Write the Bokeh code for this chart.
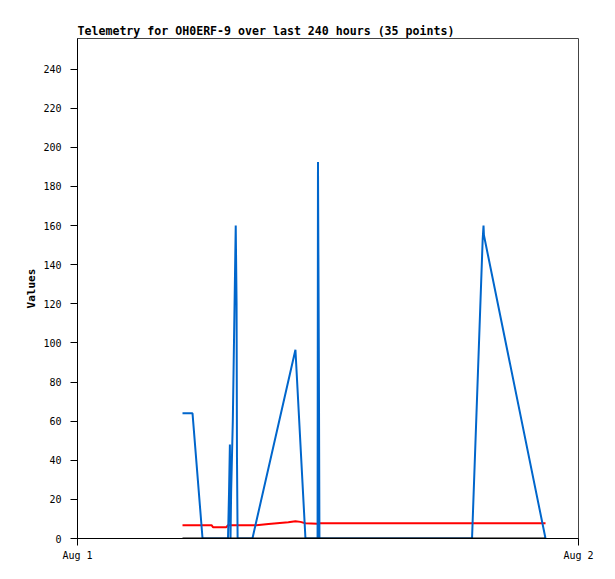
from bokeh.plotting import figure
from bokeh.models import Range1d, FixedTicker
from bokeh.embed import file_html
from bokeh.resources import INLINE

# hours since Aug 1 00:00
blue_hours = [5.03, 5.51, 5.99, 7.21, 7.26, 7.30, 7.33, 7.36, 7.44, 7.58, 7.62,
              7.64, 7.67, 8.38, 10.44, 10.92, 11.50, 11.52, 11.56, 11.59, 18.90,
              19.41, 19.45, 19.47, 22.42]
blue_values = [64, 64, 0, 0, 24, 48, 0, 24, 60, 160, 120,
               41, 0, 0, 96.5, 0, 0, 192.5, 96, 0, 0,
               153, 160, 155, 0]

red_hours = [5.03, 6.42, 6.49, 7.13, 7.21, 8.57, 9.15, 10.10, 10.44, 10.68,
             10.92, 11.50, 11.60, 22.42]
red_values = [6.8, 6.8, 5.8, 5.8, 6.8, 6.8, 7.4, 8.3, 8.8, 8.5,
              7.8, 7.6, 7.8, 7.8]

black_hours = [5.03, 22.42]
black_values = [0, 0]

y_ticks = [0, 20, 40, 60, 80, 100, 120, 140, 160, 180, 200, 220, 240]
x_ticks = [0, 24]
x_tick_labels = {0: "Aug 1", 24: "Aug 2"}

MONO = "DejaVu Sans Mono"

p = figure(width=607, height=571, output_backend="svg", toolbar_location=None,
           x_range=Range1d(0, 24), y_range=Range1d(0, 255.6),
           min_border_left=77, min_border_right=29, min_border_top=38,
           min_border_bottom=33,
           title="Telemetry for OH0ERF-9 over last 240 hours (35 points)")

p.title.text_font = MONO
p.title.text_font_style = "bold"
p.title.text_font_size = "11.6px"
p.title.align = "left"
p.title.text_color = "black"
p.title.offset = 0
p.title.standoff = 1

p.background_fill_color = "white"
p.border_fill_color = "white"
p.outline_line_color = "#444444"
p.outline_line_width = 1
p.xgrid.visible = False
p.ygrid.visible = False

p.line(red_hours, red_values, line_color="#ff0000", line_width=2)
p.line(blue_hours, blue_values, line_color="#0066cc", line_width=2)
p.line(black_hours, black_values, line_color="black", line_width=2)

ya = p.yaxis[0]
ya.ticker = FixedTicker(ticks=y_ticks)
ya.axis_label = "Values"
ya.axis_label_text_font = MONO
ya.axis_label_text_font_style = "bold"
ya.axis_label_text_font_size = "11px"
ya.axis_label_text_color = "black"
ya.axis_label_standoff = 2
ya.major_label_text_font = MONO
ya.major_label_text_font_size = "10px"
ya.major_label_text_color = "black"
ya.major_label_standoff = 9
ya.major_tick_out = 7
ya.major_tick_in = 0
ya.minor_tick_out = 0
ya.minor_tick_in = 0
ya.axis_line_color = "black"
ya.major_tick_line_color = "black"

xa = p.xaxis[0]
xa.ticker = FixedTicker(ticks=x_ticks)
xa.major_label_overrides = x_tick_labels
xa.major_label_text_font = MONO
xa.major_label_text_font_size = "10px"
xa.major_label_text_color = "black"
xa.major_label_standoff = 4
xa.major_tick_out = 7
xa.major_tick_in = 0
xa.minor_tick_out = 0
xa.minor_tick_in = 0
xa.axis_line_color = "black"
xa.major_tick_line_color = "black"

open("out.html", "w").write(file_html(p, INLINE))
